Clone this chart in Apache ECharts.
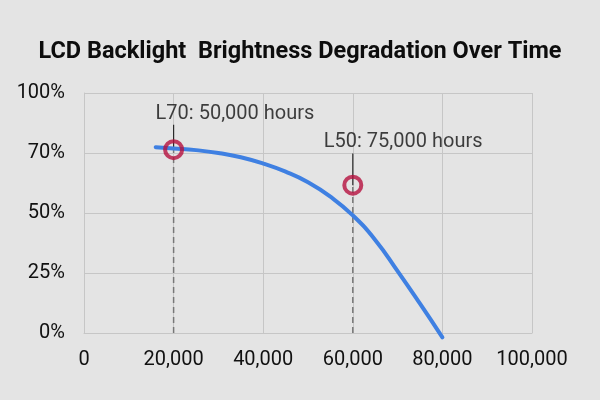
<!DOCTYPE html>
<html>
<head>
<meta charset="utf-8">
<title>LCD Backlight Brightness Degradation</title>
<script src="https://cdn.jsdelivr.net/npm/echarts@6/dist/echarts.min.js"></script>
<style>
  html, body { margin: 0; padding: 0; background: #e4e4e4; }
  #chart { width: 600px; height: 400px; }
</style>
</head>
<body>
<div id="chart"></div>
<script>
// curve data (hours -> brightness %)
var hours = [16000, 20000, 25000, 30000, 35000, 40000, 45000, 50000, 55000, 60000, 65000, 70000, 75000, 80000];
var brightness = [77.4, 76.9, 76.2, 75.0, 73.2, 70.6, 67.2, 62.8, 56.8, 49.0, 38.8, 25.8, 12.2, -1.8];

// annotated points
var markerHours = [20000, 60000];
var markerValues = [76.4, 61.6];
var leaderTops = [86.8, 74.8];
var markerTexts = ['L70: 50,000 hours', 'L50: 75,000 hours'];

// tick labels
var xTickLabels = ['0', '20,000', '40,000', '60,000', '80,000', '100,000'];
var yTickLabels = ['0%', '25%', '50%', '70%', '100%'];

var FONT = 'Roboto, "Noto Sans", sans-serif';

(function () {
  var myChart = echarts.init(document.getElementById('chart'));

  var curve = hours.map(function (h, i) { return [h, brightness[i]]; });

  var series = [];
  // dashed drop lines + solid leader lines
  markerHours.forEach(function (h, i) {
    series.push({
      type: 'line',
      data: [[h, 0], [h, markerValues[i]]],
      symbol: 'none',
      silent: true,
      z: 1,
      lineStyle: { color: '#777', width: 1.5, type: [6, 4] }
    });
    series.push({
      type: 'line',
      data: [[h, markerValues[i]], [h, leaderTops[i]]],
      symbol: 'none',
      silent: true,
      z: 1,
      lineStyle: { color: '#2a2a2a', width: 1.2 }
    });
  });

  // the curve
  series.push({
    name: 'Brightness',
    type: 'line',
    data: curve,
    smooth: 0.5,
    symbol: 'none',
    clip: false,
    z: 3,
    lineStyle: { color: '#3f80e2', width: 4, cap: 'round' }
  });

  // red ring markers
  series.push({
    type: 'scatter',
    data: markerHours.map(function (h, i) { return [h, markerValues[i]]; }),
    symbol: 'circle',
    symbolSize: 17,
    z: 4,
    itemStyle: { color: 'rgba(0,0,0,0)', borderColor: '#b5103f', borderWidth: 4 }
  });

  // annotation texts
  var labelOffsets = [[-18, 0], [-29, 0]];
  series.push({
    type: 'scatter',
    symbolSize: 0,
    silent: true,
    z: 5,
    data: markerHours.map(function (h, i) {
      return {
        value: [h, leaderTops[i]],
        label: {
          show: true,
          position: 'top',
          distance: 1,
          align: 'left',
          offset: labelOffsets[i],
          formatter: markerTexts[i],
          color: '#111',
          fontSize: 20,
          fontFamily: FONT
        }
      };
    })
  });

  var option = {
    backgroundColor: '#e4e4e4',
    animation: false,
    title: {
      text: 'LCD Backlight  Brightness Degradation Over Time',
      left: 'center',
      top: 35,
      textStyle: { fontSize: 23.5, fontWeight: 'bold', color: '#0d0d0d', fontFamily: FONT }
    },
    grid: { left: 84, right: 68, top: 93, bottom: 67 },
    xAxis: {
      type: 'value',
      min: 0,
      max: 100000,
      interval: 20000,
      axisTick: { show: false },
      axisLine: { lineStyle: { color: '#c6c6c6', width: 1 } },
      splitLine: { lineStyle: { color: '#c6c6c6', width: 1 } },
      axisLabel: {
        margin: 17,
        color: '#111',
        fontSize: 20,
        fontFamily: FONT,
        formatter: function (v) { return xTickLabels[Math.round(v / 20000)]; }
      }
    },
    yAxis: {
      type: 'value',
      min: 0,
      max: 100,
      interval: 25,
      axisTick: { show: false },
      axisLine: { show: true, lineStyle: { color: '#c6c6c6', width: 1 } },
      splitLine: { lineStyle: { color: '#c6c6c6', width: 1 } },
      axisLabel: {
        margin: 19,
        color: '#111',
        fontSize: 20,
        fontFamily: FONT,
        formatter: function (v) { return yTickLabels[Math.round(v / 25)]; }
      }
    },
    series: series
  };
  myChart.setOption(option);
  window.addEventListener('resize', function () {
    myChart.resize();
  });
})();
</script>
</body>
</html>
